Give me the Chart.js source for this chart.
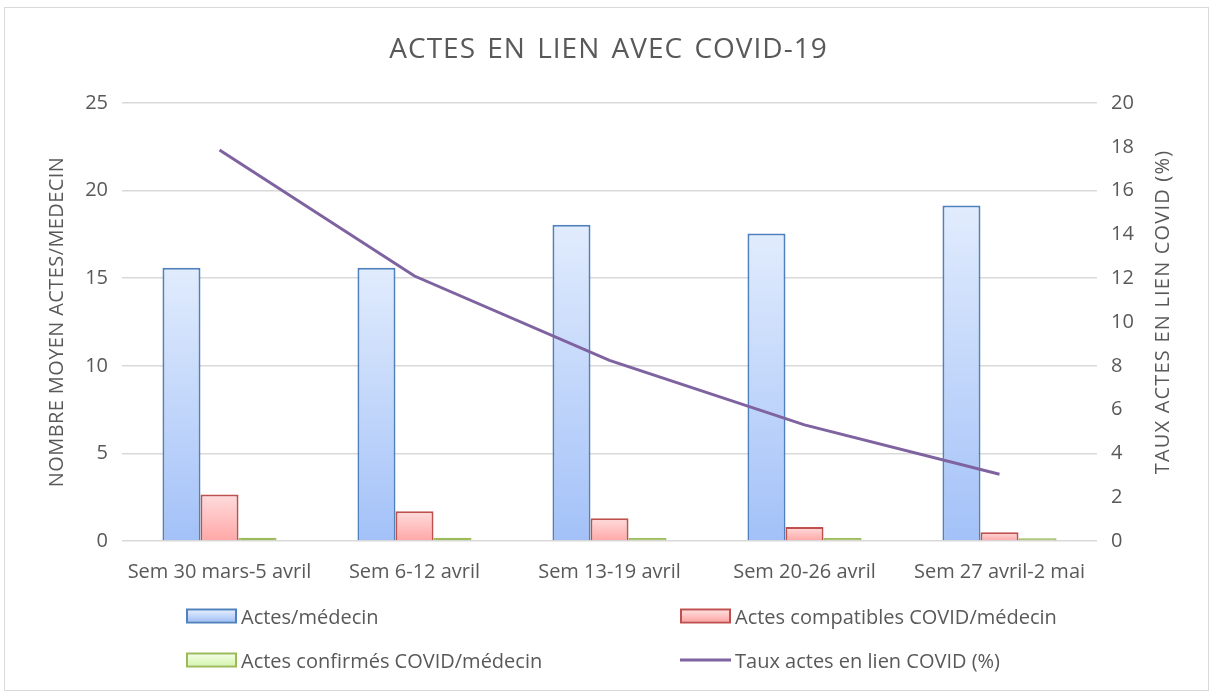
<!DOCTYPE html>
<html lang="fr">
<head>
<meta charset="utf-8">
<title>Actes en lien avec COVID-19</title>
<script src="https://cdn.jsdelivr.net/npm/chart.js@4"></script>
<style>
  html, body { margin: 0; padding: 0; background: #fff; }
  #wrap { position: relative; width: 1209px; height: 693px; }
  #frame { position: absolute; left: 4px; top: 7px; width: 1203px; height: 682px; border: 1px solid #d9d9d9; pointer-events: none; }
  #legend { position: absolute; left: 0; top: 0; width: 100%; height: 100%; pointer-events: none;
            font-family: "Open Sans", sans-serif; font-size: 20px; color: #595959; }
  .item { position: absolute; display: flex; align-items: center; white-space: nowrap; transform: translateY(-50%); }
  .swatch { width: 47px; height: 11px; margin-right: 4px; }
  .lineSw { width: 51px; height: 3px; margin-right: 4px; }
</style>
</head>
<body>
<div id="wrap">
  <canvas id="chart" width="1209" height="693"></canvas>
  <div id="frame"></div>
  <div id="legend"></div>
</div>
<script>
/* --- Data ------------------------------------------------- */
const WEEKS = ['Sem 30 mars-5 avril', 'Sem 6-12 avril', 'Sem 13-19 avril', 'Sem 20-26 avril', 'Sem 27 avril-2 mai'];
const ACTES = [15.6, 15.6, 18.05, 17.55, 19.15];
const COMPATIBLES = [2.65, 1.7, 1.3, 0.8, 0.5];
const CONFIRMES = [0.18, 0.18, 0.17, 0.17, 0.15];
const TAUX = [17.85, 12.1, 8.25, 5.3, 3.05];

const LABELS = ['Actes/médecin', 'Actes compatibles COVID/médecin', 'Actes confirmés COVID/médecin', 'Taux actes en lien COVID (%)'];
const TITLE = 'ACTES EN LIEN AVEC COVID-19';
const AXIS_TITLES = ['NOMBRE MOYEN ACTES/MEDECIN', 'TAUX ACTES EN LIEN COVID (%)'];

const TEXT = '#595959';
const FONT = '"Open Sans", sans-serif';
const PAD = { left: 28, right: 22, top: 103, bottom: 107 };

// vertical gradient per bar, from its top down to the zero line
function barGradient(top, bottom, solid) {
  return ctx => {
    const chart = ctx.chart;
    if (!chart.chartArea || ctx.type !== 'data') return bottom;
    const y = chart.scales.y;
    const yTop = y.getPixelForValue(ctx.raw);
    const yBase = y.getPixelForValue(0);
    if (!isFinite(yTop)) return bottom;
    if (yBase - yTop < 5) return solid;   // very thin bars look like a plain border line
    const g = chart.ctx.createLinearGradient(0, yTop, 0, yBase);
    g.addColorStop(0, top);
    g.addColorStop(1, bottom);
    return g;
  };
}

const SERIES = [
  { label: LABELS[0], data: ACTES, border: '#4f81bd', top: '#e1ecfd', bottom: '#a3c1f8' },
  { label: LABELS[1], data: COMPATIBLES, border: '#c0504d', top: '#ffdcdc', bottom: '#ffa7a7' },
  { label: LABELS[2], data: CONFIRMES, border: '#9bbb59', top: '#f2fde3', bottom: '#d7f5b1' },
];

const datasets = SERIES.map(s => ({
  type: 'bar',
  label: s.label,
  data: s.data,
  yAxisID: 'y',
  backgroundColor: barGradient(s.top, s.bottom, s.border),
  borderColor: s.border,
  borderWidth: 2,
  borderSkipped: 'bottom',
  categoryPercentage: 0.585,
  barPercentage: 1,
  order: 1,
}));

datasets.push({
  type: 'line',
  label: LABELS[3],
  data: TAUX,
  yAxisID: 'y2',
  borderColor: '#7f63a1',
  borderWidth: 3,
  pointRadius: 0,
  tension: 0,
  fill: false,
  order: 0,
});

// title + axis titles (both axis titles read bottom-to-top, like the original)
const texts = {
  id: 'texts',
  afterDraw(chart) {
    const { ctx, chartArea } = chart;
    const cx = (chartArea.left + chartArea.right) / 2;
    const cy = (chartArea.top + chartArea.bottom) / 2;
    ctx.save();
    ctx.fillStyle = TEXT;
    ctx.textAlign = 'center';
    ctx.textBaseline = 'middle';

    ctx.font = '28px ' + FONT;
    ctx.letterSpacing = '1px';
    ctx.wordSpacing = '3px';
    ctx.fillText(TITLE, cx - 1, 50);
    ctx.wordSpacing = '0px';

    const spots = [[57, cy, '0.4px'], [1163, cy - 10, '1.2px']];
    ctx.font = '20px ' + FONT;
    AXIS_TITLES.forEach((t, i) => {
      ctx.save();
      ctx.letterSpacing = spots[i][2];
      ctx.translate(spots[i][0], spots[i][1]);
      ctx.rotate(-Math.PI / 2);
      ctx.fillText(t, 0, 0);
      ctx.restore();
    });
    ctx.restore();
  }
};

new Chart(document.getElementById('chart'), {
  data: { labels: WEEKS, datasets },
  plugins: [texts],
  options: {
    responsive: false,
    animation: false,
    layout: { padding: PAD },
    plugins: {
      legend: { display: false },
      tooltip: { enabled: false },
    },
    scales: {
      x: {
        grid: { display: false },
        border: { display: false },
        ticks: { color: TEXT, font: { family: FONT, size: 20 }, padding: 11, maxRotation: 0 },
        afterFit: s => { s.height = 45; },
      },
      y: {
        position: 'left',
        min: 0, max: 25,
        ticks: { stepSize: 5, color: TEXT, font: { family: FONT, size: 20 }, padding: 14 },
        grid: { color: '#d9d9d9', lineWidth: 1.5, drawTicks: false },
        border: { display: false },
        afterFit: s => { s.width = 122 - PAD.left; },
      },
      y2: {
        position: 'right',
        min: 0, max: 20,
        ticks: { stepSize: 2, color: TEXT, font: { family: FONT, size: 20 }, padding: 14 },
        grid: { display: false, drawTicks: false },
        border: { display: false },
        afterFit: s => { s.width = 1209 - PAD.right - 1097; },
      },
    },
  },
});

/* --- Legend (two columns, as in the original) -------------- */
const legendPos = [[186, 616], [680, 616], [186, 660], [680, 660]];
const legend = document.getElementById('legend');
LABELS.forEach((label, i) => {
  const item = document.createElement('div');
  item.className = 'item';
  item.style.left = legendPos[i][0] + 'px';
  item.style.top = legendPos[i][1] + 'px';
  const sw = document.createElement('span');
  if (i < SERIES.length) {
    sw.className = 'swatch';
    sw.style.border = '2px solid ' + SERIES[i].border;
    sw.style.background = 'linear-gradient(' + SERIES[i].top + ',' + SERIES[i].bottom + ')';
  } else {
    sw.className = 'lineSw';
    sw.style.background = '#7f63a1';
  }
  item.appendChild(sw);
  item.appendChild(document.createTextNode(label));
  legend.appendChild(item);
});
</script>
</body>
</html>
